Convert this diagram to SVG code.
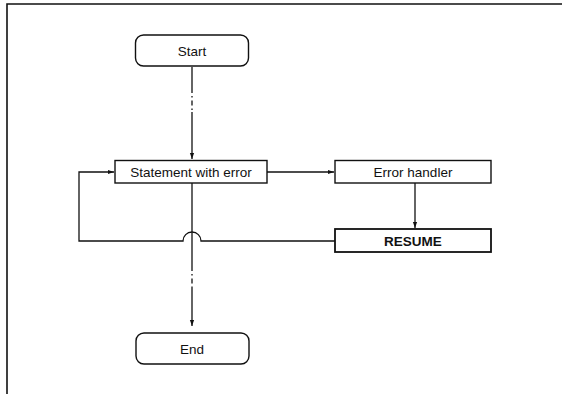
<svg xmlns="http://www.w3.org/2000/svg" width="562" height="394" viewBox="0 0 562 394">
<style>
.box{fill:#fff;stroke:#111;stroke-width:1.4}
.t{font-family:"Liberation Sans",Arial,sans-serif;font-size:13.5px;fill:#111;text-anchor:middle}
.c{fill:none;stroke:#111;stroke-width:1.3}
.d{fill:none;stroke:#111;stroke-width:1.3;stroke-dasharray:5 3 1.5 3}
.frame{fill:none;stroke:#111;stroke-width:1.6}
</style>
<defs>
<marker id="ah" viewBox="0 0 10 10" refX="10" refY="5" markerWidth="7" markerHeight="6" markerUnits="userSpaceOnUse" orient="auto">
<path d="M0,1.5 L10,5 L0,8.5 Z" fill="#111"/>
</marker>
</defs>
<path class="frame" d="M7,394 L7,4 L562,4"/>
<g id="connectors">
<path class="c" d="M192,67 L192,88"/>
<path class="d" d="M192,88 L192,112"/>
<path class="c" d="M192,112 L192,159" marker-end="url(#ah)"/>
<path class="c" d="M267,172 L334,172" marker-end="url(#ah)"/>
<path class="c" d="M415,183 L415,228" marker-end="url(#ah)"/>
<path class="c" d="M335,241 L201,241 A9,9 0 0 0 183,241 L79,241 L79,172 L114,172" marker-end="url(#ah)"/>
<path class="c" d="M192,183 L192,266"/>
<path class="d" d="M192,266 L192,287"/>
<path class="c" d="M192,287 L192,326" marker-end="url(#ah)"/>
</g>
<g id="start">
<rect class="box" x="135.5" y="35" width="113" height="31" rx="8"/>
<text class="t" x="192" y="55.5">Start</text>
</g>
<g id="statement">
<rect class="box" x="115" y="160.5" width="152" height="22.5"/>
<text class="t" x="191" y="176.5">Statement with error</text>
</g>
<g id="handler">
<rect class="box" x="335" y="160.5" width="156" height="22.5"/>
<text class="t" x="413" y="176.5">Error handler</text>
</g>
<g id="resume">
<rect class="box" x="335" y="229" width="156" height="23" style="stroke-width:1.8"/>
<text class="t" x="413" y="245.5" font-weight="bold">RESUME</text>
</g>
<g id="end">
<rect class="box" x="136" y="333" width="113" height="31" rx="8"/>
<text class="t" x="192" y="353.5">End</text>
</g>
</svg>
